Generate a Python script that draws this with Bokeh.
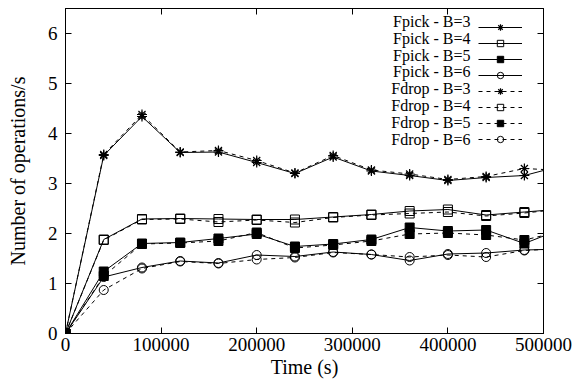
from bokeh.plotting import figure
from bokeh.models import (Legend, LegendItem, Label, LinearAxis, FixedTicker,
                          Range1d, NumeralTickFormatter, CustomJSTickFormatter)
from bokeh.core.properties import value
from bokeh.embed import file_html
from bokeh.resources import INLINE

# ---- data ----
time_s = [0, 40000, 80000, 120000, 160000, 200000, 240000, 280000, 320000,
          360000, 400000, 440000, 480000, 520000]
fpick_b3 = [0, 3.56, 4.34, 3.62, 3.63, 3.42, 3.20, 3.53, 3.25, 3.16, 3.06, 3.12, 3.16, 3.36]
fpick_b4 = [0, 1.88, 2.29, 2.30, 2.29, 2.28, 2.28, 2.33, 2.38, 2.45, 2.48, 2.37, 2.43, 2.49]
fpick_b5 = [0, 1.24, 1.80, 1.82, 1.90, 1.99, 1.74, 1.79, 1.88, 2.12, 2.05, 2.07, 1.80, 2.10]
fpick_b6 = [0, 1.13, 1.32, 1.45, 1.41, 1.57, 1.54, 1.63, 1.58, 1.46, 1.59, 1.61, 1.67, 1.69]
fdrop_b3 = [0, 3.58, 4.38, 3.63, 3.66, 3.46, 3.21, 3.56, 3.27, 3.19, 3.08, 3.14, 3.30, 3.26]
fdrop_b4 = [0, 1.87, 2.28, 2.29, 2.23, 2.27, 2.22, 2.32, 2.37, 2.40, 2.43, 2.35, 2.41, 2.49]
fdrop_b5 = [0, 1.15, 1.79, 1.81, 1.85, 2.02, 1.71, 1.77, 1.85, 1.99, 2.01, 1.97, 1.87, 2.05]
fdrop_b6 = [0, 0.87, 1.30, 1.44, 1.40, 1.48, 1.52, 1.62, 1.58, 1.53, 1.57, 1.53, 1.66, 1.70]

x_ticks = [0, 100000, 200000, 300000, 400000, 500000]
y_ticks = [0, 1, 2, 3, 4, 5, 6]

series = [
    ("Fpick - B=3", fpick_b3, "asterisk", False, "solid"),
    ("Fpick - B=4", fpick_b4, "square", False, "solid"),
    ("Fpick - B=5", fpick_b5, "square", True, "solid"),
    ("Fpick - B=6", fpick_b6, "circle", False, "solid"),
    ("Fdrop - B=3", fdrop_b3, "asterisk", False, "4 4"),
    ("Fdrop - B=4", fdrop_b4, "square", False, "4 4"),
    ("Fdrop - B=5", fdrop_b5, "square", True, "4 4"),
    ("Fdrop - B=6", fdrop_b6, "circle", False, "4 4"),
]

FONT = "Liberation Serif"

p = figure(width=585, height=389, x_range=Range1d(0, 500000), y_range=Range1d(0, 6.5),
           output_backend="svg", toolbar_location=None,
           min_border_left=65, min_border_right=42, min_border_top=8, min_border_bottom=56)
p.grid.visible = False
p.outline_line_color = "black"
p.outline_line_width = 1
p.background_fill_color = "white"
p.border_fill_color = "white"

def style_axis(ax, show_labels):
    ax.axis_line_color = "black"
    ax.major_tick_line_color = "black"
    ax.major_tick_in = 6
    ax.major_tick_out = 0
    ax.minor_tick_line_color = None
    ax.major_label_text_font = FONT
    ax.major_label_text_color = "black"
    ax.axis_label_text_font = FONT
    ax.axis_label_text_font_style = "normal"
    ax.axis_label_text_font_size = "20px"
    ax.axis_label_text_color = "black"
    if show_labels:
        ax.major_label_text_font_size = "19px"
    else:
        ax.formatter = CustomJSTickFormatter(code="return ''")
        ax.major_label_standoff = 0

p.xaxis.ticker = FixedTicker(ticks=x_ticks)
p.yaxis.ticker = FixedTicker(ticks=y_ticks)
p.xaxis.formatter = NumeralTickFormatter(format="0")
p.xaxis.axis_label = "Time (s)"
p.yaxis.axis_label = "Number of operations/s"
style_axis(p.xaxis[0], True)
style_axis(p.yaxis[0], True)
p.xaxis.major_label_standoff = 4
p.yaxis.major_label_standoff = 8
p.xaxis.axis_label_standoff = 2
p.yaxis.axis_label_standoff = 16

top_ax = LinearAxis(ticker=FixedTicker(ticks=x_ticks))
right_ax = LinearAxis(ticker=FixedTicker(ticks=y_ticks))
style_axis(top_ax, False)
style_axis(right_ax, False)
p.add_layout(top_ax, "above")
p.add_layout(right_ax, "right")

items = []
for name, ys, marker, filled, dash in series:
    lr = p.line(time_s, ys, line_color="black", line_width=1, line_dash=dash)
    sr = p.scatter(time_s, ys, marker=marker, size=9 if marker != "asterisk" else 10,
                   line_color="black", line_width=1.2 if marker == "asterisk" else 1,
                   fill_color="black" if filled else None)
    items.append(LegendItem(label=value(""), renderers=[lr, sr]))

# legend: glyph samples on the right, text right-aligned to their left
row_h = 16.8
legend = Legend(items=items, location=(413, 186), orientation="vertical",
                glyph_width=44, glyph_height=int(row_h), label_height=int(row_h),
                label_width=0, label_standoff=0, spacing=0, padding=0, margin=0,
                border_line_color=None, background_fill_alpha=0,
                label_text_font_size="16px", label_text_font=FONT)
p.add_layout(legend)

for i, (name, *_rest) in enumerate(series):
    yc = 21 + i * row_h
    p.add_layout(Label(x=405, y=333 - yc, x_units="screen", y_units="screen",
                       text=name, text_align="right", text_baseline="middle",
                       text_font=FONT, text_font_size="16px", text_color="black"))

open("out.html", "w").write(file_html(p, INLINE))
